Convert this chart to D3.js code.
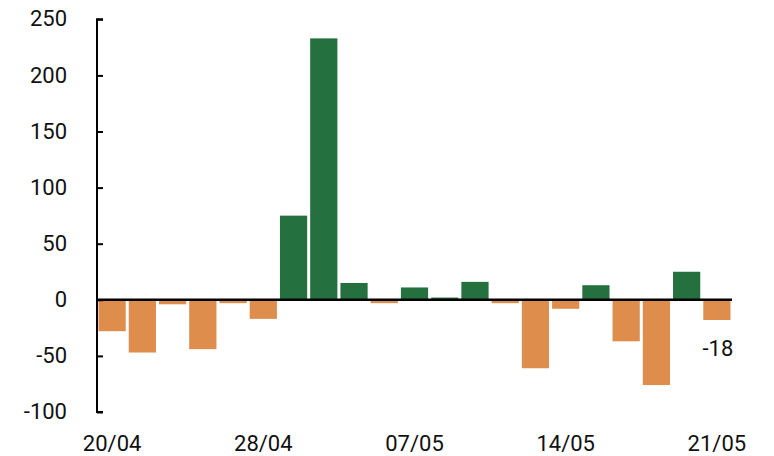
<!DOCTYPE html>
<html>
<head>
<meta charset="utf-8">
<script src="https://cdn.jsdelivr.net/npm/d3@7"></script>
<style>
  html, body { margin: 0; padding: 0; background: #fff; }
  svg { display: block; }
  text { font-family: Roboto, "Noto Sans", sans-serif; fill: #111; }
</style>
</head>
<body>
<svg id="chart" width="774" height="456"></svg>
<script>
const dates = ["20/04","21/04","22/04","23/04","24/04","28/04","29/04","30/04","05/05","06/05",
               "07/05","08/05","11/05","12/05","13/05","14/05","15/05","18/05","19/05","20/05","21/05"];
const values = [-28, -47, -4, -44, -3, -17, 75, 233, 15, -3,
                11, 2, 16, -3, -61, -8, 13, -37, -76, 25, -18];
const tickLabels = ["20/04","28/04","07/05","14/05","21/05"];
const yTicks = [-100, -50, 0, 50, 100, 150, 200, 250];
const lastLabel = "-18";

const svg = d3.select("#chart");
const mLeft = 97, mRight = 732, mTop = 19.3, mBottom = 412;

const x = d3.scaleBand().domain(dates).range([mLeft, mRight]).paddingInner(0.1).paddingOuter(0.05);
const y = d3.scaleLinear().domain([-100, 250]).range([mBottom, mTop]);

// bars
svg.append("g").selectAll("rect").data(values).join("rect")
  .attr("x", (d, i) => x(dates[i]))
  .attr("width", x.bandwidth())
  .attr("y", d => y(Math.max(0, d)))
  .attr("height", d => Math.abs(y(d) - y(0)))
  .attr("fill", d => d >= 0 ? "#24713F" : "#DE8D4C");

// y axis
const yAxis = d3.axisLeft(y).tickValues(yTicks).tickSize(-6).tickPadding(30).tickFormat(d => String(d));
const gy = svg.append("g").attr("transform", `translate(${mLeft},0)`).call(yAxis);
gy.select(".domain").attr("stroke", "#000").attr("stroke-width", 2)
  .attr("d", `M6,${y(250)}H0V${y(-100)}H6`);
gy.selectAll(".tick line").attr("stroke", "#000").attr("stroke-width", 2);
gy.selectAll(".tick text").attr("font-size", 22).attr("font-family", "Roboto, sans-serif").attr("fill", "#111").attr("dy", "0.3em");

// zero line
svg.append("line")
  .attr("x1", mLeft).attr("x2", mRight)
  .attr("y1", y(0)).attr("y2", y(0))
  .attr("stroke", "#000").attr("stroke-width", 2.5);

// x labels
svg.append("g").selectAll("text").data(tickLabels).join("text")
  .attr("x", d => x(d) + x.bandwidth() / 2)
  .attr("y", 451)
  .attr("text-anchor", "middle")
  .attr("font-size", 22)
  .text(d => d);

// last value label
const lastDate = dates[dates.length - 1];
svg.append("text")
  .attr("x", x(lastDate) + x.bandwidth() / 2 + 1)
  .attr("y", 356)
  .attr("text-anchor", "middle")
  .attr("font-size", 22)
  .text(lastLabel);
</script>
</body>
</html>
